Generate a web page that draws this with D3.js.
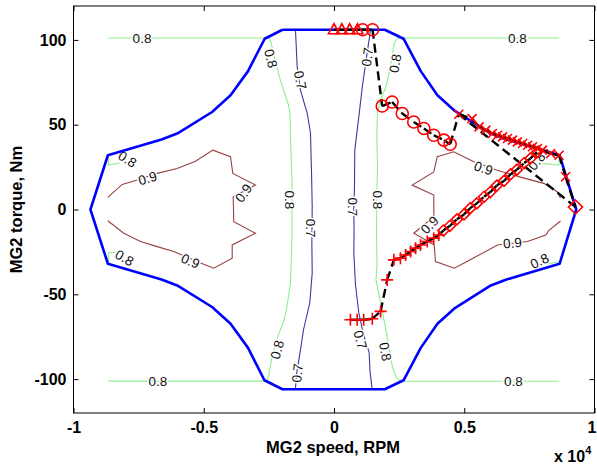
<!DOCTYPE html>
<html>
<head>
<meta charset="utf-8">
<script src="https://cdn.jsdelivr.net/npm/d3@7"></script>
<style>
  body { margin: 0; background: #fff; }
  svg { display: block; }
  text { font-family: "Liberation Sans", Arial, Helvetica, sans-serif; }
</style>
</head>
<body>
<svg id="chart" width="597" height="470"></svg>
<script>
// ---- axes ----
const xTicks = [-10000, -5000, 0, 5000, 10000];
const xTickLabels = ["-1", "-0.5", "0", "0.5", "1"];
const yTicks = [-100, -50, 0, 50, 100];
const yTickLabels = ["-100", "-50", "0", "50", "100"];

// ---- MG2 torque envelope (speed in RPM, torque in Nm), closed outline ----
const envelopeSpeed = [-1980, 1950, 2670, 3330, 3970, 4610, 6020, 6620, 8660, 9300,
  8660, 6620, 6020, 4610, 3970, 3330, 2670, 1950, -1980, -2670, -3300, -3970, -4680,
  -6020, -6620, -8680, -9350, -8680, -6620, -6020, -4680, -3970, -3300, -2660, -1980];
const envelopeTorque = [106, 106, 100.7, 81.6, 67.4, 58.5, 44.8, 41.3, 32, 0,
  -32, -41.3, -44.8, -58.5, -67.4, -81.6, -100.7, -106, -106, -100.7, -81.6, -67.4, -57.5,
  -44.8, -41.3, -32, 0, 32, 41.3, 44.8, 57.5, 67.4, 81.6, 100.7, 106];

// ---- efficiency contour lines [speed, torque] ----
const eff07Left = [[-1478, 105.6], [-1413, 84], [-1286, 70.3], [-1029, 56.8], [-902, 45],
  [-860, 20], [-837, 1.6], [-850, -20], [-837, -37.4], [-929, -55], [-1171, -70.9],
  [-1286, -82.6], [-1440, -97.4], [-1478, -105.6]];
const eff07Right = [[1401, 105.6], [1286, 93.8], [1094, 73.2], [952, 54.6], [798, 35],
  [787, 13.4], [760, 1.6], [770, -12], [760, -25.6], [825, -44.4], [952, -60.9],
  [1133, -73.8], [1350, -84.4], [1380, -95], [1466, -106.2]];
const eff08Left = [[-8660, 101.1], [-2476, 101.1], [-2361, 95], [-2092, 77.9], [-1747, 61.5],
  [-1689, 56.8], [-1670, 42.6], [-1612, 17.4], [-1612, -16.2], [-1670, -43.2], [-1824, -59.1],
  [-1939, -66.2], [-2131, -73.8], [-2361, -85.6], [-2515, -98.5], [-2591, -101.2], [-8660, -101.2]];
const eff08Right = [[8645, 101.1], [2438, 101.1], [2311, 97.9], [2207, 87.9], [2015, 73.2],
  [1785, 64.4], [1670, 57.4], [1643, 43.8], [1670, 25], [1643, 5.6], [1632, -15], [1651, -31.5],
  [1612, -41.5], [1747, -51.5], [1977, -69.7], [2092, -79.7], [2246, -93.2], [2399, -99.1],
  [2553, -101.3], [8645, -101.3]];
const eff08TipUpperLeft = [[-8660, 32], [-8660, 26.2], [-8230, 27.4]];
const eff08TipLowerLeft = [[-8660, -30.7], [-8660, -25.4], [-8230, -25.4]];
const eff08TipUpperRight = [[7980, 27.2], [8560, 26.2], [8645, 26.2], [8645, 32]];
const eff08TipLowerRight = [[8070, -32.6], [8645, -30.7]];
const eff09Left = [[-8684, 7.2], [-8131, 14.8], [-7555, 17.4], [-6787, 21.3], [-6020, 24.2],
  [-5317, 28.5], [-4653, 35], [-3973, 31.1], [-3885, 21.3], [-3014, 14.4], [-3870, 7.5],
  [-3847, -7.2], [-3014, -14], [-3908, -20.9], [-3908, -28.7], [-4614, -34.6], [-5125, -31.6],
  [-6150, -24.8], [-6787, -21.9], [-7428, -18.9], [-8070, -14], [-8684, -6.6]];
const eff09Right = [[8695, 6.8], [8568, 10.5], [8054, 15.4], [7159, 19.1], [6265, 23.2],
  [5367, 28.1], [4599, 34], [3962, 31.1], [3831, 22.2], [3002, 14.4], [3831, 8.5],
  [3831, -4.2], [3063, -14], [3847, -20.9], [3896, -30.7], [4614, -34.6], [4998, -31.6],
  [6277, -20.9], [7428, -18.9], [8131, -15], [8262, -12.1], [8695, -6.8]];

// inline contour labels: level text, anchor speed/torque, text angle (deg)
const contourLabelText = ["0.8", "0.8", "0.8", "0.8", "0.8", "0.8", "0.8", "0.8", "0.8", "0.8",
  "0.8", "0.8", "0.8", "0.8",
  "0.7", "0.7", "0.7", "0.7", "0.7", "0.7",
  "0.9", "0.9", "0.9", "0.9", "0.9", "0.9"];
const contourLabelSpeed = [-7370, -2418, -1689, -2188, -6757, 7044, 2342, 1670, 1977, 6890,
  -7928, -8043, 7774, 7889,
  -1286, -902, -1413, 1274, 737, 1017,
  -7155, -3474, -5509, 5739, 3666, 6852];
const contourLabelTorque = [101, 89.1, 5.6, -82.6, -101.3, 101, 86.2, 5.6, -83.8, -101.3,
  29.7, -28.5, 28.5, -30.3,
  76.2, -11, -96.4, 89.9, 1.6, -76.8,
  18.5, 9.7, -30.3, 24.4, -9.1, -19.7];
const contourLabelAngle = [0, 76, 90, -75, 0, 0, -80, 90, 80, 0,
  32, 30, -50, -25,
  78, 90, -83, -82, 90, 74,
  -17, -55, 23, 19, -45, -5];

// ---- operating points ----
const launchSpeed = [0, 300, 600, 900];
const launchTorque = [106, 106, 106, 106];
const circleSpeed = [1100, 1480, 1850, 2230, 2620, 3060, 3450, 3830, 4220, 4460];
const circleTorque = [106, 106, 61, 63.4, 56.6, 51.6, 47.8, 43.8, 40.9, 38.5];
const crossSpeed = [4790, 5300, 5570, 5830, 6080, 6280, 6470, 6660, 6850, 7040, 7240, 7430,
  7620, 7810, 8000, 8320, 8640, 8890];
const crossTorque = [56.2, 53.6, 48.7, 46.8, 44.8, 43.8, 42.8, 41.9, 40.9, 39.9, 38.9, 37.9,
  37.0, 36.0, 35.0, 33.0, 32.0, 19.3];
const peakSpeed = [9270];
const peakTorque = [1.5];
const plusSpeed = [630, 890, 1140, 1470, 1790, 2040, 2300, 2550, 2750, 2940, 3130, 3320,
  3580, 3830, 4020];
const plusTorque = [-65, -65, -65, -64.4, -60.1, -41.5, -29.7, -28.7, -26.8, -24.8, -22.8,
  -20.9, -18.9, -16.9, -15];
const diamondSpeed = [4200, 4450, 4720, 4990, 5230, 5480, 5760, 6000, 6250, 6530, 6780,
  7020, 7300, 7540, 7800];
const diamondTorque = [-12.4, -9.6, -5.8, -2.9, 0.8, 3.6, 7.5, 10.3, 14.1, 16.9, 20.8,
  23.5, 27.4, 30.1, 33.9];

// ---- drawing ----
const svg = d3.select("#chart");
const plotLeft = 73.5, plotRight = 594.5, plotTop = 6, plotBottom = 413;
const x = d3.scaleLinear().domain([-10000, 10000]).range([plotLeft, plotRight]);
const y = d3.scaleLinear().domain([-120, 120]).range([plotBottom, plotTop]);
const zip = (a, b) => a.map((v, i) => [v, b[i]]);
const line = d3.line().x(d => x(d[0])).y(d => y(d[1]));

svg.append("clipPath").attr("id", "plotClip")
  .append("rect").attr("x", plotLeft).attr("y", plotTop)
  .attr("width", plotRight - plotLeft).attr("height", plotBottom - plotTop);
const plot = svg.append("g").attr("clip-path", "url(#plotClip)");

// contour lines
const contours = [
  { pts: eff07Left, color: "#3a3aa0" }, { pts: eff07Right, color: "#3a3aa0" },
  { pts: eff08Left, color: "#8cf08c" }, { pts: eff08Right, color: "#8cf08c" },
  { pts: eff08TipUpperLeft, color: "#8cf08c" }, { pts: eff08TipLowerLeft, color: "#8cf08c" },
  { pts: eff08TipUpperRight, color: "#8cf08c" }, { pts: eff08TipLowerRight, color: "#8cf08c" },
  { pts: eff09Left, color: "#9a4040" }, { pts: eff09Right, color: "#9a4040" }
];
plot.selectAll("path.contour").data(contours).join("path")
  .attr("class", "contour")
  .attr("d", d => line(d.pts))
  .attr("fill", "none")
  .attr("stroke", d => d.color)
  .attr("stroke-width", 1.1);

// contour labels (white halo breaks the line under the text)
const labels = contourLabelText.map((t, i) => ({
  t, s: contourLabelSpeed[i], q: contourLabelTorque[i], a: contourLabelAngle[i]
}));
plot.selectAll("text.clabel").data(labels).join("text")
  .attr("class", "clabel")
  .attr("transform", d => `translate(${x(d.s)},${y(d.q)}) rotate(${d.a})`)
  .attr("text-anchor", "middle")
  .attr("dy", "0.36em")
  .attr("font-size", 13.5)
  .attr("fill", "#111")
  .attr("stroke", "#fff")
  .attr("stroke-width", 3)
  .attr("paint-order", "stroke")
  .text(d => d.t);

// torque envelope
plot.append("path")
  .attr("d", line(zip(envelopeSpeed, envelopeTorque)))
  .attr("fill", "none")
  .attr("stroke", "#0000ff")
  .attr("stroke-width", 2.6)
  .attr("stroke-linejoin", "round");

// operating trajectories, dashed segment by segment
const upperPath = zip(launchSpeed, launchTorque)
  .concat(zip(circleSpeed, circleTorque))
  .concat(zip(crossSpeed, crossTorque))
  .concat(zip(peakSpeed, peakTorque));
const returnPath = [zip(peakSpeed, peakTorque)[0], zip(crossSpeed, crossTorque)[0]];
const lowerPath = zip(plusSpeed, plusTorque).concat(zip(diamondSpeed, diamondTorque));
const segments = [];
[upperPath, returnPath, lowerPath].forEach(p => {
  for (let i = 0; i < p.length - 1; i++) segments.push([p[i], p[i + 1]]);
});
plot.selectAll("line.seg").data(segments).join("line")
  .attr("class", "seg")
  .attr("x1", d => x(d[0][0])).attr("y1", d => y(d[0][1]))
  .attr("x2", d => x(d[1][0])).attr("y2", d => y(d[1][1]))
  .attr("stroke", "#000")
  .attr("stroke-width", 2.4)
  .attr("stroke-dasharray", "9,5");

// markers
const red = "#ff0000";
const markerPaths = {
  triangle: "M0,-6L5.5,4L-5.5,4Z",
  cross: "M-4.5,-4.5L4.5,4.5M-4.5,4.5L4.5,-4.5",
  plus: "M-6,0L6,0M0,-6L0,6",
  diamond: "M0,-5.5L5.5,0L0,5.5L-5.5,0Z",
  bigDiamond: "M0,-7L7,0L0,7L-7,0Z"
};
function drawMarkers(speeds, torques, kind) {
  const pts = zip(speeds, torques);
  if (kind === "circle") {
    plot.append("g").selectAll("circle").data(pts).join("circle")
      .attr("cx", d => x(d[0])).attr("cy", d => y(d[1])).attr("r", 6)
      .attr("fill", "none").attr("stroke", red).attr("stroke-width", 1.6);
  } else {
    plot.append("g").selectAll("path").data(pts).join("path")
      .attr("transform", d => `translate(${x(d[0])},${y(d[1])})`)
      .attr("d", markerPaths[kind])
      .attr("fill", "none").attr("stroke", red).attr("stroke-width", 1.6);
  }
}
drawMarkers(launchSpeed, launchTorque, "triangle");
drawMarkers(circleSpeed, circleTorque, "circle");
drawMarkers(crossSpeed, crossTorque, "cross");
drawMarkers(peakSpeed, peakTorque, "bigDiamond");
drawMarkers(plusSpeed, plusTorque, "plus");
drawMarkers(diamondSpeed, diamondTorque, "diamond");

// axes box and ticks
const tickFont = g => g.selectAll("text")
  .attr("font-size", 16).attr("font-weight", "bold").attr("fill", "#000")
  .attr("font-family", "'Liberation Sans', Arial, sans-serif");
const clean = g => { g.select(".domain").remove(); g.selectAll("line").attr("stroke", "#000"); };

const xAxisG = svg.append("g").attr("transform", `translate(0,${plotBottom})`)
  .call(d3.axisBottom(x).tickValues(xTicks).tickFormat((d, i) => xTickLabels[i])
    .tickSizeInner(-5).tickSizeOuter(0).tickPadding(9))
  .call(clean).call(tickFont);
// keep the last label inside the window edge
xAxisG.selectAll(".tick text").filter(d => d === xTicks[xTicks.length - 1]).attr("dx", -3);
svg.append("g").attr("transform", `translate(0,${plotTop})`)
  .call(d3.axisTop(x).tickValues(xTicks).tickFormat("").tickSizeInner(-5).tickSizeOuter(0))
  .call(clean);
svg.append("g").attr("transform", `translate(${plotLeft},0)`)
  .call(d3.axisLeft(y).tickValues(yTicks).tickFormat((d, i) => yTickLabels[i])
    .tickSizeInner(-5).tickSizeOuter(0).tickPadding(7))
  .call(clean).call(tickFont);
svg.append("g").attr("transform", `translate(${plotRight},0)`)
  .call(d3.axisRight(y).tickValues(yTicks).tickFormat("").tickSizeInner(-5).tickSizeOuter(0))
  .call(clean);

svg.append("rect")
  .attr("x", plotLeft).attr("y", plotTop)
  .attr("width", plotRight - plotLeft).attr("height", plotBottom - plotTop)
  .attr("fill", "none").attr("stroke", "#000").attr("stroke-width", 1);

// axis titles
svg.append("text")
  .attr("x", (plotLeft + plotRight) / 2 - 1).attr("y", 453)
  .attr("text-anchor", "middle").attr("font-size", 16.5).attr("font-weight", "bold")
  .text("MG2 speed, RPM");
svg.append("text")
  .attr("transform", `translate(22,${(plotTop + plotBottom) / 2}) rotate(-90)`)
  .attr("text-anchor", "middle").attr("font-size", 16.5).attr("font-weight", "bold")
  .text("MG2 torque, Nm");
const expo = svg.append("text")
  .attr("x", 554).attr("y", 462).attr("font-size", 16).attr("font-weight", "bold");
expo.append("tspan").text("x 10");
expo.append("tspan").attr("dy", -8).attr("font-size", 11).text("4");
</script>
</body>
</html>
